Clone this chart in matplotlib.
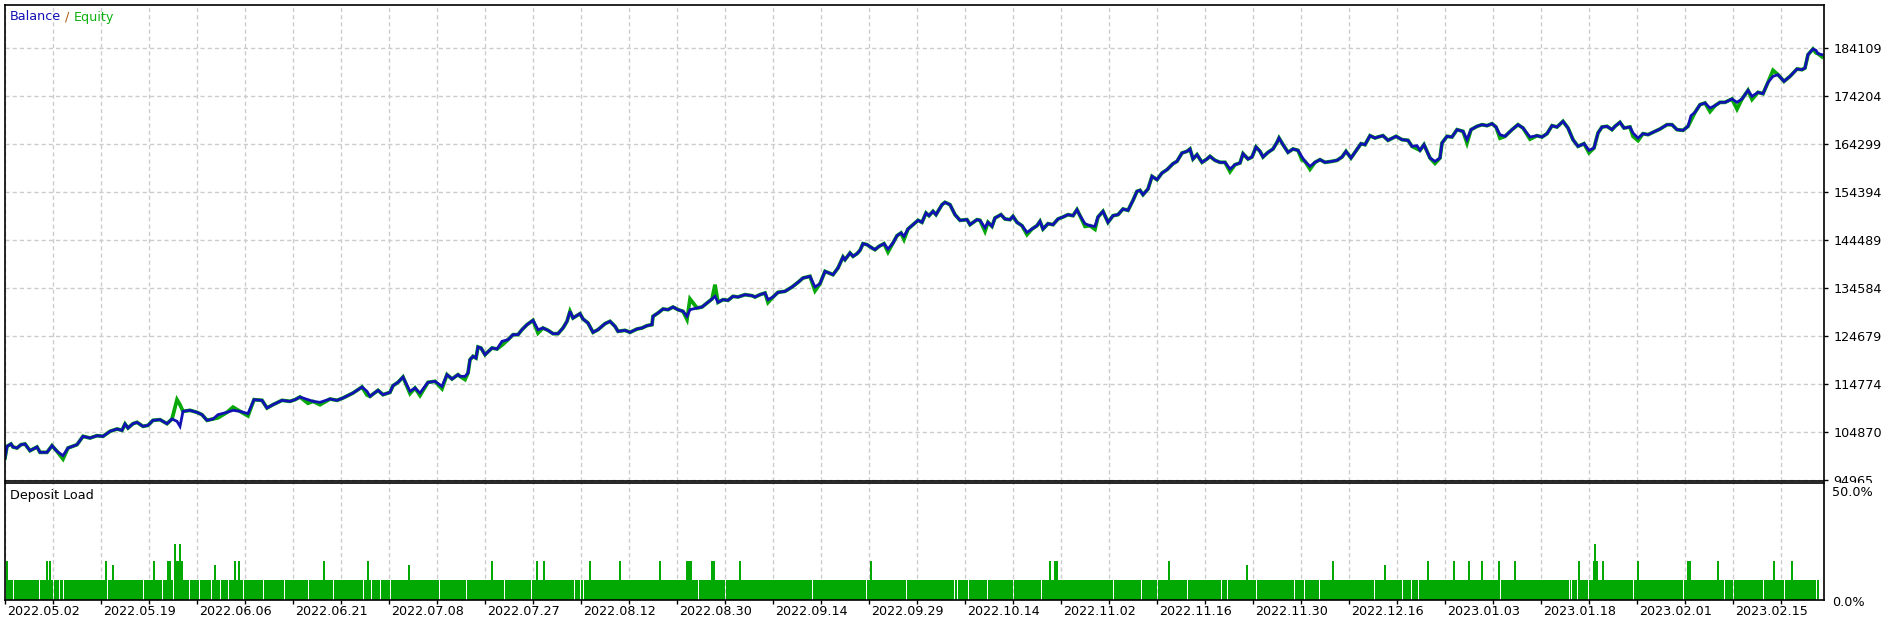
import numpy as np
import matplotlib
matplotlib.use("Agg")
import matplotlib.pyplot as plt
from matplotlib.patches import Rectangle

plt.rcParams['font.family'] = ['DejaVu Sans']
plt.rcParams['lines.scale_dashes'] = False

# balance curve (deal number -> balance)
bal_deal = [0, 2, 6, 8, 12, 16, 20, 25, 32, 35, 42, 47, 52, 58, 63, 72, 78, 85, 92, 98,
            105, 112, 117, 120, 123, 128, 132, 138, 143, 148, 155, 162, 167, 172, 175, 178, 185, 192, 197, 202,
            208, 213, 222, 228, 235, 243, 249, 257, 262, 268, 277, 285, 290, 295, 303, 308, 315, 325, 332, 338,
            348, 357, 362, 365, 373, 378, 385, 388, 393, 398, 405, 410, 415, 423, 430, 437, 442, 447, 453,
            455, 460, 463, 465, 468, 471, 473, 476, 480, 487, 492, 497, 503, 508, 513, 517, 522, 528, 533, 538,
            543, 548, 553, 558, 562, 565, 568, 575, 578, 583, 588, 593, 600, 605, 610, 613, 620, 625, 632, 637,
            642, 647, 648, 653, 658, 663, 668, 673, 678, 682, 685, 692, 697, 702, 707, 710, 713, 718, 723, 728,
            733, 740, 747, 750, 755, 760, 763, 768, 773, 780, 787, 793, 798, 805, 810, 815, 820, 828, 833, 838,
            840, 845, 848, 852, 855, 858, 862, 867, 870, 874, 879, 883, 888, 892, 896, 899, 903, 908, 913, 917,
            921, 924, 928, 931, 937, 940, 945, 950, 955, 962, 965, 972, 975, 980, 983, 987, 990, 996, 1000, 1005,
            1008, 1012, 1017, 1022, 1027, 1032, 1035, 1038, 1043, 1048, 1053, 1058, 1063, 1068, 1072, 1075, 1080, 1085, 1090, 1093,
            1098, 1103, 1108, 1113, 1118, 1123, 1128, 1132, 1135, 1138, 1143, 1147, 1152, 1157, 1162, 1168, 1172, 1177, 1182, 1185,
            1188, 1192, 1197, 1202, 1205, 1210, 1215, 1220, 1225, 1230, 1235, 1238, 1243, 1247, 1251, 1255, 1258, 1263, 1268, 1272,
            1274, 1278, 1283, 1288, 1293, 1297, 1300, 1305, 1310, 1315, 1320, 1327, 1332, 1337, 1341, 1346, 1350, 1356, 1360, 1365,
            1370, 1373, 1378, 1383, 1391, 1397, 1403, 1407, 1412, 1415, 1419, 1425, 1430, 1435, 1437, 1442, 1447, 1452, 1458, 1462,
            1466, 1472, 1477, 1482, 1487, 1491, 1495, 1500, 1507, 1513, 1518, 1525, 1532, 1537, 1542, 1547, 1552, 1558, 1563, 1568,
            1573, 1579, 1584, 1589, 1593, 1597, 1602, 1607, 1610, 1615, 1619, 1625, 1628, 1633, 1638, 1643, 1648, 1655, 1662, 1667,
            1672, 1678, 1683, 1686, 1690, 1695, 1700, 1705, 1710, 1715, 1720, 1727, 1732, 1737, 1743, 1747, 1753, 1758, 1763, 1768,
            1773, 1779, 1785, 1792, 1797, 1800, 1803, 1808, 1811, 1813, 1817]
balance = [99505, 101912, 102394, 101775, 101568, 102256, 102394, 101018, 101775, 100675, 100675, 102050, 100881, 99987, 101568, 102256, 103976, 103632, 104113, 103976,
           105007, 105489, 105214, 106521, 105695, 106589, 106865, 106039, 106246, 107277, 107415, 106589, 107553, 107071, 106039, 109134, 109340, 108928, 108446, 107277,
           107553, 108446, 108928, 109340, 109134, 108653, 111541, 111404, 109822, 110510, 111404, 111197, 111541, 112091, 111541, 111197, 110991, 111679, 111404, 111885,
           112917, 114155, 113261, 112229, 113467, 112573, 113055, 114430, 115118, 116218, 113261, 113949, 112917, 115118, 115324, 114293, 116700, 115806, 116700,
           116356, 116356, 117044, 119796, 120483, 120140, 122409, 122203, 120827, 122203, 121997, 123579, 123922, 124954, 124954, 125986, 127017, 127912, 125986, 126330,
           125848, 125160, 125160, 126330, 127705, 129769, 128393, 129287, 128187, 127361, 125436, 125986, 127224, 127705, 126673, 125642, 125848, 125436, 126123, 126330,
           126811, 127017, 128737, 129425, 130250, 130112, 130663, 130112, 129769, 128737, 130112, 130456, 130663, 131488, 132314, 132864, 131626, 132176, 132038, 132864,
           132726, 133208, 133001, 132726, 133208, 133552, 132176, 132726, 133689, 133896, 134790, 135753, 136647, 136991, 134790, 135478, 138023, 137335, 138711, 140981,
           140431, 141806, 141118, 141669, 142357, 143732, 143526, 142838, 142494, 143182, 143732, 142632, 143870, 145383, 145933, 145246, 146759, 147653, 148548, 148135,
           150061, 149511, 150405, 149717, 151780, 152262, 151780, 149717, 148548, 148685, 147654, 148685, 148548, 147016, 148135, 147310, 149029, 149717, 148823, 148685,
           149373, 148135, 147447, 146071, 146759, 147447, 148341, 146759, 147860, 147654, 148823, 149236, 149717, 149511, 150749, 149511, 147860, 147447, 147310, 149236,
           150405, 148135, 149511, 149717, 150886, 150611, 152674, 154532, 154738, 153844, 155013, 157627, 156939, 158314, 159002, 160240, 160722, 162441, 162785, 163267,
           161203, 162097, 160516, 161203, 161753, 160928, 160516, 160516, 159140, 160034, 160378, 162304, 161203, 161616, 163679, 162785, 161616, 162579, 163267, 164642,
           165536, 164161, 162579, 163267, 162991, 161616, 160722, 159690, 160516, 161066, 160516, 160722, 160928, 161616, 162785, 161410, 162579, 164367, 164161, 166018,
           165536, 165743, 166018, 165056, 165881, 165193, 165056, 163818, 163955, 162992, 164161, 161410, 160722, 161410, 164505, 165881, 165743, 167256, 166912, 165193,
           167256, 167944, 168288, 168081, 168495, 167807, 166225, 165881, 167256, 168288, 167600, 165743, 166018, 165743, 166431, 168081, 167807, 168976, 167600, 165193,
           163818, 164367, 162992, 163474, 166569, 167807, 167944, 167256, 167944, 168770, 167600, 167807, 166569, 165536, 166431, 166225, 166706, 167394, 168288, 168288,
           167256, 167118, 167944, 170145, 170833, 172415, 172759, 171727, 172209, 172897, 172897, 173584, 172897, 173584, 175373, 174135, 174960, 174685, 177023, 178261,
           178605, 177230, 178261, 179775, 179637, 179981, 182732, 183902, 183627, 182939, 182732]

# equity: where it differs visibly from the balance
eq_deal = [58, 172, 175, 213, 228, 243, 303, 315, 362, 405, 415, 437, 460, 497, 533, 682, 685, 710, 763, 810,
           883, 899, 980, 1022, 1080, 1090, 1225, 1297, 1305, 1412, 1430, 1462, 1495, 1525, 1584, 1628, 1633, 1686, 1705, 1732,
           1747, 1768, 1811, 1817]
eq_value = [99300, 111541, 110500, 107800, 110000, 108200, 110800, 110500, 112500, 112800, 112400, 113800, 115700, 122800, 125300, 128100, 132314, 135271, 131600, 134000,
            142000, 144600, 146300, 145600, 147300, 146700, 158600, 161000, 159100, 163300, 160300, 164500, 165500, 165300, 162500, 165900, 165000, 169200, 171000, 171500,
            173500, 179500, 183100, 182300]

# deposit load (%)
load_base = 8.6
load_gaps = [8, 34, 48, 54, 58, 102, 138, 157, 168, 184, 194, 206, 215, 223, 238, 258, 279, 303, 328, 358,
             366, 375, 385, 434, 461, 499, 526, 569, 575, 578, 693, 720, 807, 861, 901, 949, 952, 963, 982, 1008,
             1036, 1108, 1136, 1152, 1182, 1216, 1222, 1251, 1289, 1299, 1314, 1369, 1397, 1406, 1413, 1495, 1564, 1566, 1572, 1583,
             1628, 1678, 1719, 1728, 1758, 1779, 1811]
spike_deal = [2, 42, 45, 101, 108, 149, 163, 165, 170, 172, 174, 175, 177, 210, 230, 234, 319, 363,
              404, 487, 532, 539, 585, 615, 655, 682, 684, 686, 707, 709, 735, 866, 1045, 1050, 1052,
              1164, 1242, 1328, 1380, 1423, 1449, 1464, 1477, 1494, 1510, 1574, 1589, 1590, 1592, 1598, 1633,
              1683, 1685, 1713, 1769, 1787]
spike_load = [16.5, 16.5, 16.5, 16.5, 15.0, 16.5, 16.5, 16.5, 24.0, 16.5, 16.5, 24.0, 16.5, 15.0, 16.5, 16.5, 16.5, 16.5,
              15.0, 16.5, 16.5, 16.5, 16.5, 16.5, 16.5, 16.5, 16.5, 16.5, 16.5, 16.5, 16.5, 16.5, 16.5, 16.5, 16.5,
              16.5, 15.0, 16.5, 15.0, 16.5, 16.5, 16.5, 16.5, 16.5, 16.5, 16.5, 16.5, 24.0, 16.5, 16.5, 16.5,
              16.5, 16.5, 16.5, 16.5, 16.5]
last_deal = 1814

y_ticks = [94965, 104870, 114774, 124679, 134584, 144489, 154394, 164299, 174204, 184109]
date_labels = ['2022.05.02', '2022.05.19', '2022.06.06', '2022.06.21', '2022.07.08', '2022.07.27',
               '2022.08.12', '2022.08.30', '2022.09.14', '2022.09.29', '2022.10.14', '2022.11.02',
               '2022.11.16', '2022.11.30', '2022.12.16', '2023.01.03', '2023.01.18', '2023.02.01',
               '2023.02.15']

W, H = 1889, 623
fig = plt.figure(figsize=(W / 100, H / 100), dpi=100)
fig.patch.set_facecolor('white')

def box(left, top, right, bottom):
    return [left / W, 1 - bottom / H, (right - left) / W, (bottom - top) / H]

ax1 = fig.add_axes(box(5, 5, 1824, 481), zorder=0)
ax2 = fig.add_axes(box(5, 483, 1824, 600), zorder=2)

grid_kw = dict(color='#cccccc', linewidth=1.0, linestyle=(0, (3.0, 2.2)))
fsize = 9.2

# main panel
equity = list(balance)
for d, v in zip(eq_deal, eq_value):
    equity[bal_deal.index(d)] = v
ax1.plot(bal_deal, equity, color='#08a808', linewidth=2.7, solid_joinstyle='miter')
ax1.plot(bal_deal, balance, color='#1212b4', linewidth=2.0, solid_joinstyle='miter')
ax1.set_xlim(0, 1819)
ax1.set_ylim(94759, 192982)
ax1.set_xticks(np.arange(0, 1819, 48))
ax1.set_xticklabels([])
ax1.tick_params(axis='x', length=0)
ax1.yaxis.tick_right()
ax1.set_yticks(y_ticks)
ax1.set_yticklabels([str(v) for v in y_ticks], fontsize=fsize)
ax1.tick_params(axis='y', length=3, width=1, pad=4, direction='out')
ax1.grid(True, **grid_kw)
ax1.set_axisbelow(True)
for s in ax1.spines.values():
    s.set_linewidth(1.2)

t1 = ax1.text(5 / 1819, 1 - 12 / 476, 'Balance', transform=ax1.transAxes,
              color='#1010b4', fontsize=fsize, va='center', ha='left')
t2 = ax1.annotate(' / ', xy=(1, 0.5), xycoords=t1, va='center', ha='left',
                  color='#b05a10', fontsize=fsize)
ax1.annotate('Equity', xy=(1, 0.5), xycoords=t2, va='center', ha='left',
             color='#10b010', fontsize=fsize)

# deposit load panel
edges = [1] + load_gaps + [last_deal]
lefts = [a + 0.5 for a in edges[:-1]]
widths = [b - a - 1.0 for a, b in zip(edges[:-1], edges[1:])]
ax2.bar(lefts, [load_base] * len(lefts), width=widths, align='edge',
        color='#03a903', linewidth=0)
ax2.bar(spike_deal, spike_load, width=1.6, color='#03a903', linewidth=0)
ax2.set_xlim(0, 1819)
ax2.set_ylim(0, 50)
ax2.set_xticks(np.arange(0, 1819, 48))
ax2.set_xticklabels([])
ax2.tick_params(axis='x', length=3, width=1, direction='out')
ax2.set_yticks([])
ax2.grid(True, axis='x', **grid_kw)
ax2.set_axisbelow(True)
for s in ax2.spines.values():
    s.set_linewidth(1.2)

for i, lab in enumerate(date_labels):
    ax2.annotate(lab, xy=(i * 96, 0), xycoords=('data', 'axes fraction'),
                 xytext=(2, -5), textcoords='offset pixels',
                 ha='left', va='top', fontsize=fsize, annotation_clip=False)

ax2.text(5 / 1819, 1 - 13 / 117, 'Deposit Load', transform=ax2.transAxes,
         fontsize=fsize, va='center', ha='left')
ax2.annotate('50.0%', xy=(1, 1), xycoords='axes fraction', xytext=(8, -3),
             textcoords='offset pixels', ha='left', va='top', fontsize=fsize)
ax2.annotate('0.0%', xy=(1, 0), xycoords='axes fraction', xytext=(8, -2),
             textcoords='offset pixels', ha='left', va='center', fontsize=fsize)

# lower panel hides the bottom of the last price label
fig.patches.append(Rectangle((1825 / W, 1 - 488 / H), 64 / W, 5.5 / H,
                             transform=fig.transFigure, facecolor='white',
                             edgecolor='none', zorder=1))

fig.savefig('out.png', dpi=100, facecolor='white')
